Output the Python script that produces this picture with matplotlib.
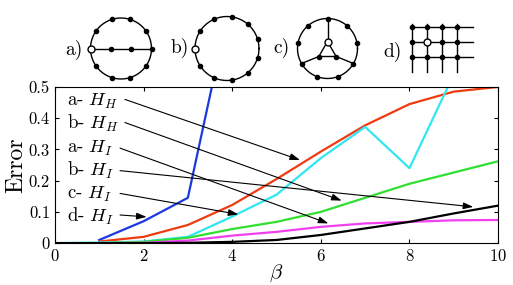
import numpy as np
import matplotlib.pyplot as plt

plt.rcParams["mathtext.fontset"] = "cm"
plt.rcParams["font.family"] = "cmr10"
plt.rcParams["axes.formatter.use_mathtext"] = True

# curves: error vs beta
beta = [0, 1, 2, 3, 4, 5, 6, 7, 8, 9, 10]
beta_from1 = [1, 2, 3, 4]
blue = [0.01, 0.07, 0.145, 0.80]
red = [0.005, 0.02, 0.058, 0.122, 0.205, 0.293, 0.377, 0.445, 0.485, 0.50]
cyan = [0, 0.002, 0.005, 0.02, 0.085, 0.155, 0.272, 0.372, 0.24, 0.54, 0.6]
green = [0, 0, 0.004, 0.017, 0.045, 0.068, 0.10, 0.145, 0.19, 0.226, 0.262]
magenta = [0, 0, 0.001, 0.008, 0.024, 0.036, 0.052, 0.063, 0.068, 0.073, 0.074]
black = [0, 0, 0, 0.001, 0.004, 0.01, 0.026, 0.047, 0.068, 0.095, 0.12]

labels = ["a- $H_H$", "b- $H_H$", "a- $H_I$", "b- $H_I$", "c- $H_I$", "d- $H_I$"]
label_y = [0.453, 0.384, 0.304, 0.232, 0.157, 0.086]
arrow_start = [(1.58, 0.46), (1.58, 0.386), (1.47, 0.304), (1.47, 0.232), (1.47, 0.159), (1.47, 0.09)]
arrow_end = [(5.53, 0.266), (6.47, 0.136), (6.17, 0.063), (9.44, 0.116), (4.14, 0.092), (2.07, 0.084)]

fig = plt.figure(figsize=(5.13, 2.85), dpi=100)
ax = fig.add_axes([0.107, 0.147, 0.864, 0.548])

ax.plot(beta_from1, blue, color="#1a3ae0", lw=1.6)
ax.plot(beta[1:], red, color="#f03a10", lw=1.6)
ax.plot(beta, cyan, color="#30e6f0", lw=1.6)
ax.plot(beta, green, color="#30e030", lw=1.6)
ax.plot(beta, magenta, color="#f040f0", lw=1.6)
ax.plot(beta, black, color="black", lw=1.6)

for lab, y, s, e in zip(labels, label_y, arrow_start, arrow_end):
    ax.text(0.28, y, lab, fontsize=13.5, va="center", ha="left")
    ax.annotate("", xy=e, xytext=s,
                arrowprops=dict(arrowstyle="-|>,head_length=0.6,head_width=0.2",
                                lw=0.8, color="black", shrinkA=0, shrinkB=0))

ax.set_xlim(0, 10)
ax.set_ylim(0, 0.5)
ax.set_xticks([0, 2, 4, 6, 8, 10])
ax.set_yticks([0, 0.1, 0.2, 0.3, 0.4, 0.5])
ax.set_yticklabels(["0", "0.1", "0.2", "0.3", "0.4", "0.5"])
ax.tick_params(direction="in", top=True, right=True, labelsize=12, length=3)
ax.set_xlabel(r"$\beta$", fontsize=15, labelpad=-1)
ax.set_ylabel("Error", fontsize=17, labelpad=1)

# schematic graphs above the plot, drawn in pixel coords
g = fig.add_axes([0, 0, 1, 1], zorder=5)
g.set_xlim(0, 513)
g.set_ylim(285, 0)
g.axis("off")
g.patch.set_visible(False)

dot = dict(marker="o", ms=3.0, color="black", ls="none")
opn = dict(marker="o", ms=5, mfc="white", mec="black", mew=1, ls="none")
t = np.linspace(0, 2 * np.pi, 200)

def ring(cx, cy, r):
    g.plot(cx + r * np.cos(t), cy - r * np.sin(t), color="black", lw=1)

# a) ring with a chord through the middle
cx, cy, r = 121, 48.5, 30.5
ring(cx, cy, r)
g.plot([cx - r, cx + r], [cy, cy], color="black", lw=1)
ang = np.deg2rad(np.arange(0, 360, 36))
ang = ang[ang != np.pi]
g.plot(cx + r * np.cos(ang), cy - r * np.sin(ang), **dot)
g.plot([cx - r / 3, cx + r / 3], [cy, cy], **dot)
g.plot([cx - r], [cy], **opn)
g.text(74, 50, "a)", fontsize=14, ha="center", va="center")

# b) plain ring of 11
cx, cy, r = 227, 48.5, 32
ring(cx, cy, r)
ang = np.pi + 2 * np.pi * np.arange(1, 11) / 11
g.plot(cx + r * np.cos(ang), cy - r * np.sin(ang), **dot)
g.plot([cx - r], [cy], **opn)
g.text(180, 48, "b)", fontsize=14, ha="center", va="center")

# c) ring with inner triangle and three spokes
cx, cy, r = 327.5, 48.5, 30
ring(cx, cy, r)
ri = 10
sp = np.deg2rad([90, 210, 330])
tx, ty = cx + ri * np.cos(sp), cy + 3 - ri * np.sin(sp)
for a, x0, y0 in zip(sp, tx, ty):
    g.plot([x0, cx + r * np.cos(a)], [y0, cy - r * np.sin(a)], color="black", lw=1)
g.plot(list(tx) + [tx[0]], list(ty) + [ty[0]], color="black", lw=1)
ang = np.deg2rad(np.arange(10, 370, 40))
g.plot(cx + r * np.cos(ang), cy - r * np.sin(ang), **dot)
g.plot(tx[1:], ty[1:], **dot)
g.plot([tx[0]], [ty[0]], **opn)
g.text(281.5, 48, "c)", fontsize=14, ha="center", va="center")

# d) square lattice
gx = [411.7, 426.7, 441.7, 456.7]
gy = [26.7, 41.7, 56.7]
for x in gx:
    g.plot([x, x], [24, 72], color="black", lw=1)
for y in gy:
    g.plot([gx[0], 472.7], [y, y], color="black", lw=1)
X, Y = np.meshgrid(gx, gy)
g.plot(X.ravel(), Y.ravel(), **dot)
g.plot([gx[1]], [gy[1]], **opn)
g.text(393, 52, "d)", fontsize=14, ha="center", va="center")

fig.savefig("out.png", dpi=100)
